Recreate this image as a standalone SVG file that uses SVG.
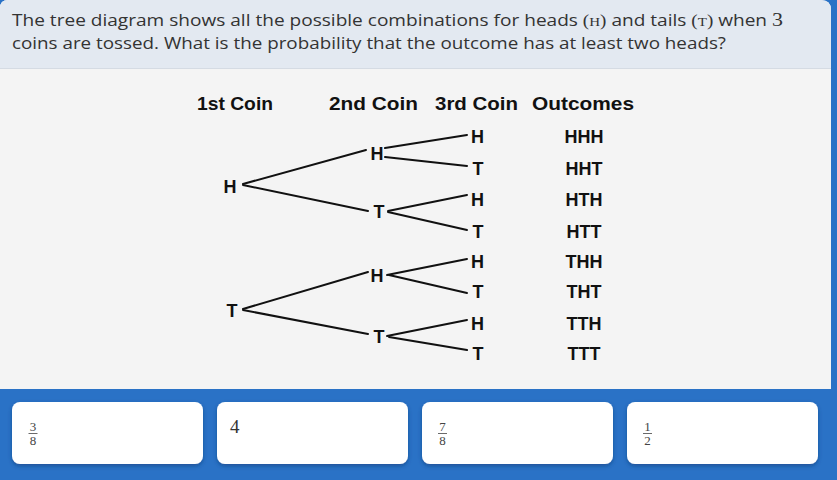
<svg xmlns="http://www.w3.org/2000/svg" width="837" height="480" viewBox="0 0 837 480">
<defs>
<style>
.hdr{font-family:"Open Sans","Liberation Sans",sans-serif;font-size:16.5px;fill:#333}
.math{font-family:"Liberation Serif","DejaVu Serif",serif;fill:#333}
.lbl{font-family:"Liberation Sans",Arial,sans-serif;font-weight:bold;font-size:18px;fill:#111}
.col{font-family:"Liberation Sans",Arial,sans-serif;font-weight:bold;font-size:19px;fill:#111}
.edge{stroke:#111;stroke-width:2;fill:none;stroke-linecap:round}
.card{fill:#fff}
.frac{font-family:"Liberation Serif","DejaVu Serif",serif;font-size:13px;fill:#444;text-anchor:middle}
.bar{stroke:#444;stroke-width:0.8}
</style>
<filter id="sh" x="-10%" y="-20%" width="120%" height="150%">
<feDropShadow dx="0" dy="2" stdDeviation="2" flood-color="#0b3a78" flood-opacity="0.6"/>
</filter>
</defs>
<rect x="0" y="0" width="837" height="480" fill="#2a72c6"/>
<path d="M0 8 Q0 0 8 0 L821 0 Q831 0 831 10 L831 389 L0 389 Z" fill="#f4f4f4"/>
<path d="M0 8 Q0 0 8 0 L821 0 Q831 0 831 10 L831 68 L0 68 Z" fill="#e3e9f1"/>
<line x1="0" y1="68.5" x2="831" y2="68.5" stroke="#d5dbe3" stroke-width="1"/>
<text class="hdr" x="12" y="26" textLength="771" lengthAdjust="spacingAndGlyphs">The tree diagram shows all the possible combinations for heads <tspan class="math">(<tspan font-size="13">H</tspan>)</tspan> and tails <tspan class="math">(<tspan font-size="13">T</tspan>)</tspan> when <tspan class="math" font-size="19">3</tspan></text>
<text class="hdr" x="12" y="49" textLength="714" lengthAdjust="spacingAndGlyphs">coins are tossed. What is the probability that the outcome has at least two heads?</text>

<g id="headers">
<text class="col" x="197" y="110" textLength="76" lengthAdjust="spacingAndGlyphs">1st Coin</text>
<text class="col" x="329" y="110" textLength="89" lengthAdjust="spacingAndGlyphs">2nd Coin</text>
<text class="col" x="435" y="110" textLength="83" lengthAdjust="spacingAndGlyphs">3rd Coin</text>
<text class="col" x="532" y="110" textLength="102" lengthAdjust="spacingAndGlyphs">Outcomes</text>
</g>

<g id="connectors">
<line class="edge" x1="243" y1="184" x2="366" y2="150"/>
<line class="edge" x1="243" y1="185" x2="368" y2="211"/>
<line class="edge" x1="385" y1="148" x2="467" y2="135"/>
<line class="edge" x1="385" y1="157" x2="467" y2="166"/>
<line class="edge" x1="388" y1="211" x2="467" y2="195"/>
<line class="edge" x1="388" y1="212" x2="467" y2="230"/>
<line class="edge" x1="243" y1="309" x2="368" y2="272"/>
<line class="edge" x1="243" y1="310" x2="368" y2="334"/>
<line class="edge" x1="387" y1="275" x2="467" y2="259"/>
<line class="edge" x1="389" y1="275" x2="467" y2="293"/>
<line class="edge" x1="387" y1="336" x2="467" y2="320"/>
<line class="edge" x1="389" y1="337" x2="467" y2="350"/>
</g>

<g id="n1H"><text class="lbl" x="230" y="193" text-anchor="middle">H</text></g>
<g id="n1T"><text class="lbl" x="232" y="317" text-anchor="middle">T</text></g>
<g id="n2H1"><text class="lbl" x="377" y="160" text-anchor="middle">H</text></g>
<g id="n2T1"><text class="lbl" x="379" y="218" text-anchor="middle">T</text></g>
<g id="n2H2"><text class="lbl" x="377" y="282" text-anchor="middle">H</text></g>
<g id="n2T2"><text class="lbl" x="379" y="343" text-anchor="middle">T</text></g>
<g id="n3a"><text class="lbl" x="477.5" y="143" text-anchor="middle">H</text></g>
<g id="n3b"><text class="lbl" x="478" y="175" text-anchor="middle">T</text></g>
<g id="n3c"><text class="lbl" x="477.5" y="206" text-anchor="middle">H</text></g>
<g id="n3d"><text class="lbl" x="478" y="238" text-anchor="middle">T</text></g>
<g id="n3e"><text class="lbl" x="477.5" y="268" text-anchor="middle">H</text></g>
<g id="n3f"><text class="lbl" x="478" y="298" text-anchor="middle">T</text></g>
<g id="n3g"><text class="lbl" x="477.5" y="330" text-anchor="middle">H</text></g>
<g id="n3h"><text class="lbl" x="478" y="360" text-anchor="middle">T</text></g>

<g id="outcomes">
<text class="lbl" x="584" y="143" text-anchor="middle">HHH</text>
<text class="lbl" x="584" y="175" text-anchor="middle">HHT</text>
<text class="lbl" x="584" y="206" text-anchor="middle">HTH</text>
<text class="lbl" x="584" y="238" text-anchor="middle">HTT</text>
<text class="lbl" x="584" y="268" text-anchor="middle">THH</text>
<text class="lbl" x="584" y="298" text-anchor="middle">THT</text>
<text class="lbl" x="584" y="330" text-anchor="middle">TTH</text>
<text class="lbl" x="584" y="360" text-anchor="middle">TTT</text>
</g>

<g id="opt1">
<rect class="card" x="12" y="402" width="191" height="62" rx="8" filter="url(#sh)"/>
<text class="frac" x="33" y="431">3</text>
<line class="bar" x1="28.5" y1="433.5" x2="37.5" y2="433.5"/>
<text class="frac" x="33" y="444.5">8</text>
</g>
<g id="opt2">
<rect class="card" x="217" y="402" width="191" height="62" rx="8" filter="url(#sh)"/>
<text class="math" x="230" y="433" font-size="19" fill="#444">4</text>
</g>
<g id="opt3">
<rect class="card" x="422" y="402" width="191" height="62" rx="8" filter="url(#sh)"/>
<text class="frac" x="442.5" y="431">7</text>
<line class="bar" x1="438" y1="433.5" x2="447" y2="433.5"/>
<text class="frac" x="442.5" y="444.5">8</text>
</g>
<g id="opt4">
<rect class="card" x="627" y="402" width="191" height="62" rx="8" filter="url(#sh)"/>
<text class="frac" x="647.5" y="431">1</text>
<line class="bar" x1="643" y1="433.5" x2="652" y2="433.5"/>
<text class="frac" x="647.5" y="444.5">2</text>
</g>
</svg>
